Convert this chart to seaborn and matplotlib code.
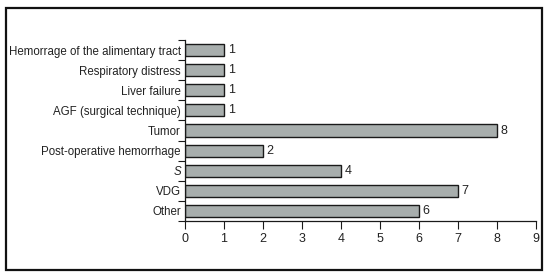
import matplotlib
matplotlib.use("Agg")
import matplotlib.pyplot as plt
import seaborn as sns
import pandas as pd
from matplotlib.patches import Rectangle
from matplotlib.ticker import FixedLocator

# Datos del gráfico
causas = ["Hemorrage of the alimentary tract", "Respiratory distress", "Liver failure",
          "AGF (surgical technique)", "Tumor", "Post-operative hemorrhage", "S", "VDG", "Other"]
casos = [1, 1, 1, 1, 8, 2, 4, 7, 6]
x_ticks = [0, 1, 2, 3, 4, 5, 6, 7, 8, 9]

sns.set_style("ticks")
plt.rcParams['font.family'] = ['Liberation Sans', 'DejaVu Sans']

df = pd.DataFrame({"causa": causas, "casos": casos})

fig = plt.figure(figsize=(5.47, 2.77), dpi=100)
ax = fig.add_axes([185 / 547, 1 - 221 / 277, 350.5 / 547, 181 / 277])

sns.barplot(data=df, y="causa", x="casos", orient="h", color="#a7afad",
            edgecolor="#1a1a1a", linewidth=1.0, width=0.6, ax=ax)

texto = "#222222"
fs = 8.3
for i, v in enumerate(casos):
    ax.text(v + 0.1, i, str(v), va="center", ha="left", fontsize=9, color=texto)

ax.set_xlim(0, 9)
ax.set_ylim(len(causas) - 0.5, -0.5)
ax.set_xticks(x_ticks)
ax.set_xlabel("")
ax.set_ylabel("")
ax.tick_params(axis="x", direction="out", length=6, width=0.8, colors="#1a1a1a",
               labelsize=9, labelcolor=texto, pad=3)
ax.tick_params(axis="y", which="major", length=0, labelsize=fs, labelcolor=texto, pad=3)
ax.yaxis.set_minor_locator(FixedLocator([i - 0.5 for i in range(len(causas) + 1)]))
ax.tick_params(axis="y", which="minor", direction="out", length=5, width=0.8, color="#1a1a1a")

for lbl in ax.get_yticklabels():
    if lbl.get_text() == "S":
        lbl.set_style("italic")

sns.despine(ax=ax, top=True, right=True)
ax.spines["left"].set_linewidth(0.9)
ax.spines["bottom"].set_linewidth(0.9)
ax.spines["left"].set_color("#1a1a1a")
ax.spines["bottom"].set_color("#1a1a1a")

# Marco exterior
fig.patches.append(Rectangle((6 / 547, 1 - 270 / 277), 536 / 547, 262 / 277,
                             transform=fig.transFigure, fill=False,
                             edgecolor="#111111", linewidth=1.6))

fig.savefig("out.png", dpi=100)
